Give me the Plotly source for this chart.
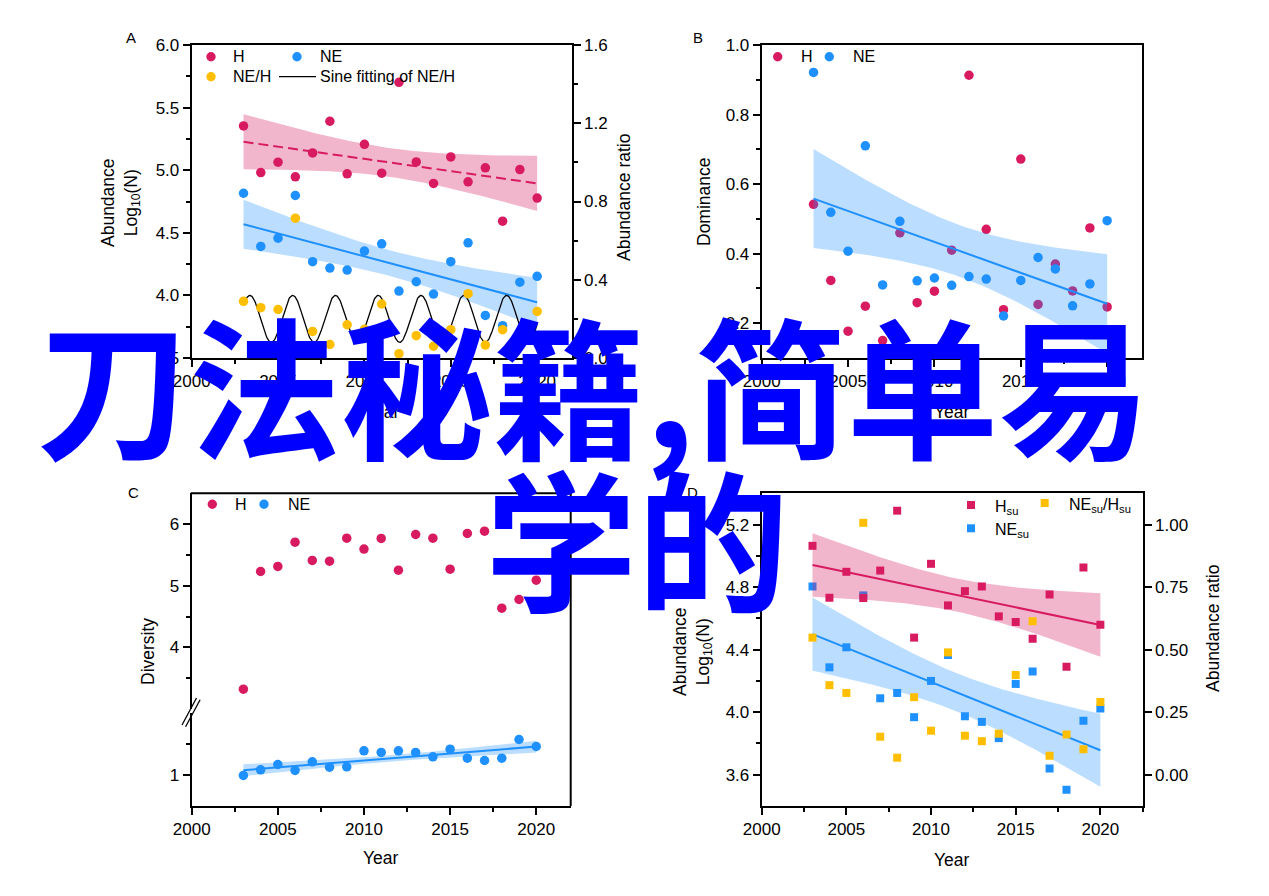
import numpy as np
import plotly.graph_objects as go

# ---------------- data ----------------
YEARS = list(range(2003, 2021))

# Panel A: abundance (log10 N) and ratio
A_H = [5.354, 4.981, 5.064, 4.947, 5.138, 5.391, 4.971, 5.207, 4.976, 5.702,
       5.066, 4.894, 5.106, 4.907, 5.019, 4.593, 5.005, 4.777]
A_NE = [4.816, 4.391, 4.457, 4.798, 4.269, 4.218, 4.202, 4.354, 4.412, 4.035,
        4.109, 4.011, 4.269, 4.420, 3.840, 3.758, 4.106, 4.152]
A_NE_H = [0.290, 0.257, 0.248, 0.715, 0.136, 0.069, 0.170, 0.147, 0.276, 0.022,
          0.114, 0.060, 0.145, 0.329, 0.066, 0.145, 0.090, 0.238]
# sine fitting of NE/H (parameters)
SINE_OFFSET = 0.20
SINE_AMPLITUDE = 0.12
SINE_PERIOD = 2.477
SINE_PEAK_YEAR = 2003.37

# Panel B: dominance
B_H = [0.542, 0.323, 0.177, 0.249, 0.150, 0.460, 0.259, 0.292, 0.410, 0.913,
       0.470, 0.239, 0.672, 0.254, 0.370, 0.293, 0.474, 0.247]
B_NE = [0.921, 0.519, 0.407, 0.710, 0.310, 0.493, 0.322, 0.330, 0.309, 0.334,
        0.327, 0.221, 0.323, 0.389, 0.356, 0.250, 0.313, 0.495]

# Panel C: diversity
C_H = [3.324, 5.232, 5.314, 5.708, 5.411, 5.400, 5.773, 5.595, 5.768, 5.254,
       5.832, 5.773, 5.270, 5.849, 5.886, 4.638, 4.778, 5.092]
C_NE = [0.995, 1.086, 1.173, 1.076, 1.216, 1.130, 1.135, 1.395, 1.368, 1.395,
        1.368, 1.297, 1.422, 1.276, 1.238, 1.276, 1.578, 1.465]

# Panel D: abundance (su)
D_H = [5.064, 4.732, 4.898, 4.730, 4.906, 5.289, 4.477, 4.949, 4.683, 4.774,
       4.804, 4.613, 4.577, 4.470, 4.753, 4.291, 4.926, 4.560]
D_NE = [4.804, 4.287, 4.415, 4.747, 4.089, 4.123, 3.968, 4.200, 4.366, 3.974,
        3.938, 3.834, 4.181, 4.260, 3.640, 3.504, 3.945, 4.023]
D_NE_H = [0.548, 0.358, 0.327, 1.007, 0.152, 0.068, 0.310, 0.176, 0.489, 0.156,
          0.134, 0.164, 0.399, 0.614, 0.076, 0.161, 0.102, 0.291]

OVERLAY_LINE1 = "刀法秘籍,简单易"
OVERLAY_LINE2 = "学的"

# ---------------- style ----------------
RED = "#D81B60"
BLUE = "#1E90FF"
YELLOW = "#FFBF00"
PINK_BAND = "rgba(216,27,96,0.32)"
BLUE_BAND = "rgba(30,144,255,0.30)"
FONT = "Liberation Sans, Arial, sans-serif"
TICK_FONT = dict(family=FONT, size=17, color="black")

OFF = 8
W, H = 1269 - 2 * OFF, 896 - 2 * OFF


def fx(x):
    return (x - OFF) / W


def fy(y):
    return 1 - (y - OFF) / H


# panel frames in screen pixels (x0, x1, ytop, ybottom)
PA = (191.7, 571.7, 45.0, 358.0)
PB = (761.7, 1141.7, 45.0, 358.0)
PC = (191.7, 570.7, 493.3, 806.0)
PD = (761.7, 1142.7, 493.3, 806.0)


def linfit(x, y, n=120):
    x = np.asarray(x, float)
    y = np.asarray(y, float)
    b, a = np.polyfit(x, y, 1)
    xs = np.linspace(x.min(), x.max(), n)
    yhat = a + b * xs
    resid = y - (a + b * x)
    s = np.sqrt(np.sum(resid ** 2) / (len(x) - 2))
    se = s * np.sqrt(1 / len(x) + (xs - x.mean()) ** 2 / np.sum((x - x.mean()) ** 2))
    t = 2.12
    return xs, yhat, yhat - t * se, yhat + t * se


def band(xs, lo, hi, color, xa, ya):
    return go.Scatter(x=np.concatenate([xs, xs[::-1]]), y=np.concatenate([hi, lo[::-1]]),
                      fill="toself", fillcolor=color, line=dict(width=0), mode="lines",
                      hoverinfo="skip", xaxis=xa, yaxis=ya)


def pts(x, y, color, xa, ya, symbol="circle", size=9.5):
    return go.Scatter(x=x, y=y, mode="markers", xaxis=xa, yaxis=ya,
                      marker=dict(color=color, size=size, symbol=symbol, line=dict(width=0)))


def line(x, y, color, xa, ya, dash="solid", width=2):
    return go.Scatter(x=x, y=y, mode="lines", xaxis=xa, yaxis=ya,
                      line=dict(color=color, width=width, dash=dash))


fig = go.Figure()

# ---- Panel A ----
xs, yh, lo, hi = linfit(YEARS, A_NE)
fig.add_trace(band(xs, lo, hi, BLUE_BAND, "x", "y"))
xs2, yh2, lo2, hi2 = linfit(YEARS, A_H)
fig.add_trace(band(xs2, lo2, hi2, PINK_BAND, "x", "y"))
fig.add_trace(line(xs2, yh2, RED, "x", "y", dash="10px,5px"))
fig.add_trace(line(xs, yh, BLUE, "x", "y"))
sx = np.linspace(YEARS[0], YEARS[-1], 600)
sy = SINE_OFFSET + SINE_AMPLITUDE * np.cos(2 * np.pi * (sx - SINE_PEAK_YEAR) / SINE_PERIOD)
fig.add_trace(line(sx, sy, "black", "x", "y2", width=1.3))
fig.add_trace(pts(YEARS, A_H, RED, "x", "y"))
fig.add_trace(pts(YEARS, A_NE, BLUE, "x", "y"))
fig.add_trace(pts(YEARS, A_NE_H, YELLOW, "x", "y2"))

# ---- Panel B ----
fig.add_trace(pts(YEARS, B_H, RED, "x2", "y3"))
xs, yh, lo, hi = linfit(YEARS, B_NE)
fig.add_trace(band(xs, lo, hi, BLUE_BAND, "x2", "y3"))
fig.add_trace(line(xs, yh, BLUE, "x2", "y3"))
fig.add_trace(pts(YEARS, B_NE, BLUE, "x2", "y3"))

# ---- Panel C ----
fig.add_trace(pts(YEARS, C_H, RED, "x3", "y5"))
xs, yh, lo, hi = linfit(YEARS, C_NE)
fig.add_trace(band(xs, lo, hi, BLUE_BAND, "x3", "y4"))
fig.add_trace(line(xs, yh, BLUE, "x3", "y4"))
fig.add_trace(pts(YEARS, C_NE, BLUE, "x3", "y4"))

# ---- Panel D ----
xs, yh, lo, hi = linfit(YEARS, D_NE)
fig.add_trace(band(xs, lo, hi, BLUE_BAND, "x4", "y6"))
fig.add_trace(line(xs, yh, BLUE, "x4", "y6"))
fig.add_trace(pts(YEARS, D_NE, BLUE, "x4", "y6", symbol="square", size=8))
xs2, yh2, lo2, hi2 = linfit(YEARS, D_H)
fig.add_trace(band(xs2, lo2, hi2, PINK_BAND, "x4", "y6"))
fig.add_trace(line(xs2, yh2, RED, "x4", "y6"))
fig.add_trace(pts(YEARS, D_H, RED, "x4", "y6", symbol="square", size=8))
fig.add_trace(pts(YEARS, D_NE_H, YELLOW, "x4", "y7", symbol="square", size=8))


# ---------------- axes ----------------
def xaxis(p, anchor, rng, mirror=True):
    return dict(domain=[fx(p[0]), fx(p[1])], anchor=anchor, range=rng, automargin=False,
                showline=True, linecolor="black", linewidth=2, mirror=mirror,
                ticks="outside", ticklen=7, tickwidth=2, tickcolor="black",
                tick0=2000, dtick=5, tickfont=TICK_FONT, showgrid=False, zeroline=False,
                minor=dict(ticks="outside", ticklen=4, tickwidth=2, tickcolor="black",
                           dtick=2.5, tick0=2000, showgrid=False))


def yaxis(dom, anchor, rng, fmt, major, minor_vals=None, side="left", overlay=None,
          mirror=True, show_line=True):
    d = dict(anchor=anchor, range=rng, side=side, showline=show_line, linecolor="black",
             linewidth=2, mirror=mirror, ticks="outside", ticklen=7, tickwidth=2,
             tickcolor="black", tickmode="array", tickvals=major, tickformat=fmt,
             tickfont=TICK_FONT, showgrid=False, zeroline=False, automargin=False)
    if dom is not None:
        d["domain"] = dom
    if overlay:
        d["overlaying"] = overlay
    if minor_vals:
        d["minor"] = dict(ticks="outside", ticklen=4, tickwidth=2, tickcolor="black",
                          tickmode="array", tickvals=minor_vals, showgrid=False)
    return d


layout = dict(
    template="none",
    width=W, height=H, margin=dict(l=0, r=0, t=0, b=0, pad=0, autoexpand=False),
    paper_bgcolor="white", plot_bgcolor="rgba(0,0,0,0)", showlegend=False,
    font=dict(family=FONT, color="black"),
)
layout["xaxis"] = xaxis(PA, "y", [2000, 2022])
layout["yaxis"] = yaxis([fy(PA[3]), fy(PA[2])], "x", [3.5, 6.0], ".1f",
                        [3.5, 4.0, 4.5, 5.0, 5.5, 6.0], [3.75, 4.25, 4.75, 5.25, 5.75])
layout["yaxis2"] = yaxis(None, "x", [0, 1.6], ".1f", [0, 0.4, 0.8, 1.2, 1.6],
                         [0.2, 0.6, 1.0, 1.4], side="right", overlay="y", mirror=False)
layout["xaxis2"] = xaxis(PB, "y3", [2000, 2022])
layout["yaxis3"] = yaxis([fy(PB[3]), fy(PB[2])], "x2", [0.1, 1.0], ".1f",
                         [0.2, 0.4, 0.6, 0.8, 1.0], [0.3, 0.5, 0.7, 0.9])
# Panel C with broken axis
c_unit = (PC[3] - PC[2]) / 5.07
c_low_top = PC[3] - 1.5 * c_unit
c_up_bot = PC[2] + 3.5 * c_unit
layout["xaxis3"] = xaxis(PC, "y4", [2000, 2022], mirror=False)
layout["yaxis4"] = yaxis([fy(PC[3]), fy(c_low_top)], "x3", [0.5, 2.0], "d", [1], [1.5],
                         mirror=False)
layout["yaxis5"] = yaxis([fy(c_up_bot), fy(PC[2])], "x3", [3.0, 6.5], "d", [4, 5, 6],
                         [3.5, 4.5, 5.5], mirror=False)
layout["xaxis4"] = xaxis(PD, "y6", [2000, 2022.5])
layout["yaxis6"] = yaxis([fy(PD[3]), fy(PD[2])], "x4", [3.4, 5.4], ".1f",
                         [3.6, 4.0, 4.4, 4.8, 5.2], [3.8, 4.2, 4.6, 5.0])
layout["yaxis7"] = yaxis(None, "x4", [-0.125, 1.125], ".2f", [0, 0.25, 0.5, 0.75, 1.0],
                         side="right", overlay="y6", mirror=False)
fig.update_layout(**layout)

# ---------------- shapes (frame of C, break marks, legend symbols) ----------------
shapes = []
shapes.append(dict(type="line", xref="paper", yref="paper", x0=fx(PC[0] - 1), x1=fx(PC[1] + 1),
                   y0=fy(PC[2]), y1=fy(PC[2]), line=dict(color="black", width=2)))
shapes.append(dict(type="line", xref="paper", yref="paper", x0=fx(PC[1]), x1=fx(PC[1]),
                   y0=fy(PC[3]), y1=fy(PC[2]), line=dict(color="black", width=2)))
for dx in (0, 3.6):
    shapes.append(dict(type="line", xref="paper", yref="paper",
                       x0=fx(182 + dx), y0=fy(725 + dx * 0.5), x1=fx(196.5 + dx), y1=fy(698 + dx * 0.5),
                       line=dict(color="black", width=1.3)))


def marker_shape(cx, cy, color, kind="circle", r=4.7):
    return dict(type=kind, xref="paper", yref="paper", xsizemode="pixel", ysizemode="pixel",
                xanchor=fx(cx), yanchor=fy(cy), x0=-r, x1=r, y0=-r, y1=r,
                fillcolor=color, line=dict(width=0))


annotations = []


def text(x, y, s, size=16, xanchor="left", yanchor="middle", angle=0, color="black", family=FONT,
         weight="normal"):
    annotations.append(dict(x=fx(x), y=fy(y), xref="paper", yref="paper", text=s, showarrow=False,
                            xanchor=xanchor, yanchor=yanchor, textangle=angle,
                            font=dict(size=size, color=color, family=family, weight=weight)))


# legend A
shapes += [marker_shape(211, 56.7, RED), marker_shape(297, 56.7, BLUE), marker_shape(211, 76.7, YELLOW)]
shapes.append(dict(type="line", xref="paper", yref="paper", x0=fx(279), x1=fx(316),
                   y0=fy(76.7), y1=fy(76.7), line=dict(color="black", width=1.3)))
text(231, 56.7, "H")
text(318, 56.7, "NE")
text(231, 76.7, "NE/H")
text(318, 76.7, "Sine fitting of NE/H")
# legend B
shapes += [marker_shape(777.7, 56.7, RED), marker_shape(829.3, 56.7, BLUE)]
text(799, 56.7, "H")
text(851, 56.7, "NE")
# legend C
shapes += [marker_shape(212.3, 504.3, RED), marker_shape(264, 504.3, BLUE)]
text(233.5, 504.3, "H")
text(285.5, 504.3, "NE")
# legend D
shapes += [marker_shape(971, 505, RED, "rect", 4), marker_shape(1044.7, 503, YELLOW, "rect", 4),
           marker_shape(971, 528.3, BLUE, "rect", 4)]
text(992.5, 507, "H<sub>su</sub>")
text(1066.5, 505, "NE<sub>su</sub>/H<sub>su</sub>")
text(992.5, 530.5, "NE<sub>su</sub>")

# panel letters
text(131, 38, "A", size=15, xanchor="center")
text(698, 38, "B", size=15, xanchor="center")
text(133, 492, "C", size=15, xanchor="center")
text(692, 492, "D", size=15, xanchor="center")

# axis titles
text((PA[0] + PA[1]) / 2, 412, "Year", size=17.5, xanchor="center")
text((PB[0] + PB[1]) / 2, 412, "Year", size=17.5, xanchor="center")
text((PC[0] + PC[1]) / 2, 858, "Year", size=17.5, xanchor="center")
text((PD[0] + PD[1]) / 2, 860, "Year", size=17.5, xanchor="center")
text(121, 203, "Abundance<br>Log<sub>10</sub>(N)", size=17.5, xanchor="center", angle=-90)
text(624, 198, "Abundance ratio", size=17.5, xanchor="center", angle=-90)
text(704, 202, "Dominance", size=17.5, xanchor="center", angle=-90)
text(148, 652, "Diversity", size=17.5, xanchor="center", angle=-90)
text(692, 652, "Abundance<br>Log<sub>10</sub>(N)", size=17.5, xanchor="center", angle=-90)
text(1213, 629, "Abundance ratio", size=17.5, xanchor="center", angle=-90)

# overlay title text
text(593, 382, OVERLAY_LINE1, size=152, xanchor="center", color="#0000FF",
     family="Noto Sans CJK SC", weight="bold")
text(637, 535, OVERLAY_LINE2, size=152, xanchor="center", color="#0000FF",
     family="Noto Sans CJK SC", weight="bold")

fig.update_layout(shapes=shapes, annotations=annotations)
fig.write_html("out.html")
